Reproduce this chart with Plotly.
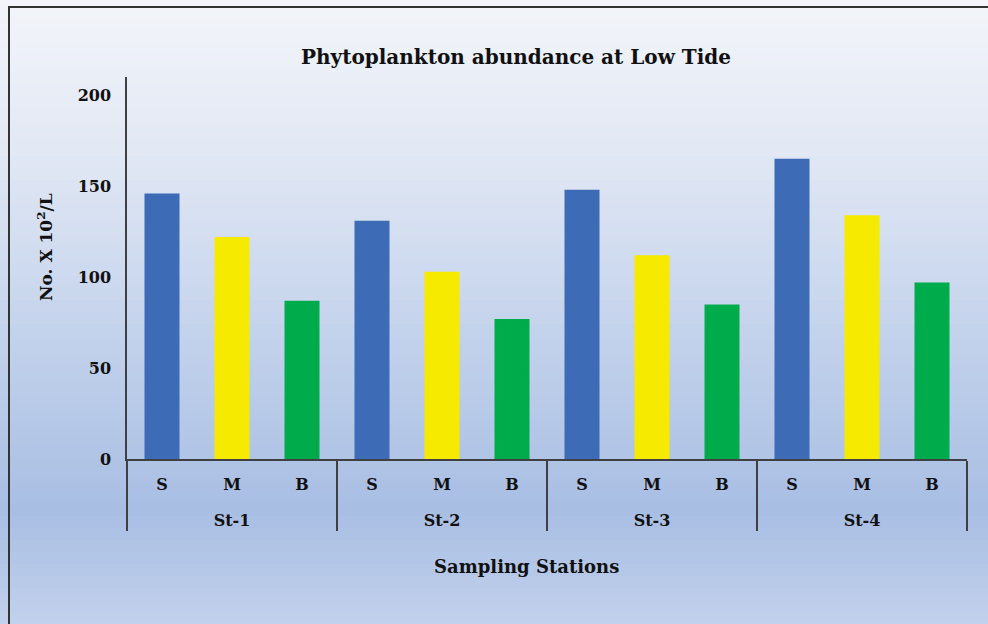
import plotly.graph_objects as go

stations = ["St-1", "St-2", "St-3", "St-4"]
depths = ["S", "M", "B"]
surface = [146, 131, 148, 165]
middle = [122, 103, 112, 134]
bottom = [87, 77, 85, 97]
colors = {"S": "#3d6bb5", "M": "#f5ea00", "B": "#00ab4c"}
y_ticks = [0, 50, 100, 150, 200]

W, H = 988, 624
ML, MR, MT, MB = 127, 21, 77, 165
PW, PH = W - ML - MR, H - MT - MB

vals = {"S": surface, "M": middle, "B": bottom}
x_outer, x_inner, yv, cv = [], [], [], []
for i, st in enumerate(stations):
    for d in depths:
        x_outer.append(st)
        # trailing blank line widens the gap between the two label rows
        x_inner.append(d + "<br><span style='font-size:36px'>\u00a0</span>")
        yv.append(vals[d][i])
        cv.append(colors[d])

fig = go.Figure(go.Bar(x=[x_outer, x_inner], y=yv, marker=dict(color=cv, line=dict(width=0)),
                       width=0.5, showlegend=False, hoverinfo="y"))

def px2paper_x(px):
    return (px - ML) / PW

def px2paper_y(py):
    return (H - MB - py) / PH

# vertical gradient background
stops = [(0, (243, 245, 250)), (150, (226, 232, 244)), (330, (196, 211, 236)),
         (510, (168, 190, 227)), (624, (194, 209, 236))]
def col_at(py):
    for (p0, c0), (p1, c1) in zip(stops[:-1], stops[1:]):
        if p0 <= py <= p1:
            t = (py - p0) / (p1 - p0)
            return "rgb(%d,%d,%d)" % tuple(round(a + (b - a) * t) for a, b in zip(c0, c1))
    return "rgb(%d,%d,%d)" % stops[-1][1]

shapes = []
step = 6
for py in range(0, H, step):
    shapes.append(dict(type="rect", xref="paper", yref="paper", layer="below",
                       x0=px2paper_x(0), x1=px2paper_x(W),
                       y0=px2paper_y(py + step + 0.5), y1=px2paper_y(py),
                       fillcolor=col_at(py + step / 2), line=dict(width=0)))
# outer frame lines (top and left)
shapes.append(dict(type="line", xref="paper", yref="paper", x0=px2paper_x(8), x1=px2paper_x(W),
                   y0=px2paper_y(7), y1=px2paper_y(7), line=dict(color="#333333", width=2)))
shapes.append(dict(type="line", xref="paper", yref="paper", x0=px2paper_x(9), x1=px2paper_x(9),
                   y0=px2paper_y(6), y1=px2paper_y(H), line=dict(color="#333333", width=2)))

ff = "DejaVu Serif"
fig.update_layout(
    width=W, height=H,
    margin=dict(l=ML, r=MR, t=MT, b=MB),
    paper_bgcolor="rgba(0,0,0,0)",
    plot_bgcolor="rgba(0,0,0,0)",
    shapes=shapes,
    title=dict(text="Phytoplankton abundance at Low Tide", x=516 / W, xanchor="center",
               y=1 - 57 / H, yanchor="middle",
               font=dict(family=ff, size=20, color="#111111", weight="bold")),
    font=dict(family=ff, color="#111111"),
    xaxis=dict(
        type="multicategory",
        showline=True, linecolor="#404040", linewidth=1.5,
        showgrid=False, ticks="", ticklabelstandoff=10,
        showdividers=True, dividercolor="#404040", dividerwidth=1.5,
        tickfont=dict(family=ff, size=16, color="#111111", weight="bold"),
    ),
    yaxis=dict(
        range=[0, 210], tickvals=y_ticks,
        showline=True, linecolor="#404040", linewidth=1.5, showgrid=False,
        zeroline=False, ticks="", ticklabelstandoff=11,
        tickfont=dict(family=ff, size=16, color="#111111", weight="bold"),
    ),
    annotations=[
        dict(text="No. X 10<sup>2</sup>/L", xref="paper", yref="paper",
             x=px2paper_x(45), y=px2paper_y(247), xanchor="center", yanchor="middle",
             textangle=-90, showarrow=False,
             font=dict(family=ff, size=17, color="#111111", weight="bold")),
        dict(text="Sampling Stations", xref="paper", yref="paper",
             x=px2paper_x(526), y=px2paper_y(566), xanchor="center", yanchor="middle",
             showarrow=False,
             font=dict(family=ff, size=18, color="#111111", weight="bold")),
    ],
)

fig.write_html("out.html")
